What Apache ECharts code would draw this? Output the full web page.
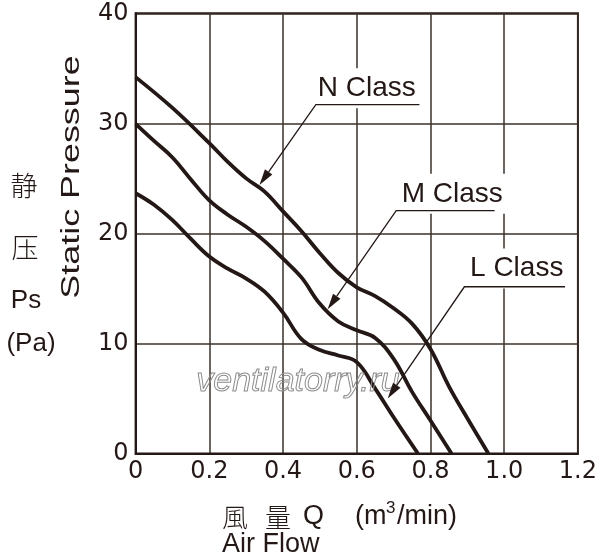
<!DOCTYPE html>
<html>
<head>
<meta charset="utf-8">
<script src="https://cdn.jsdelivr.net/npm/echarts@6/dist/echarts.min.js"></script>
<style>
html, body { margin: 0; padding: 0; background: #fff; }
#main { width: 600px; height: 558px; }
</style>
</head>
<body>
<div id="main"></div>
<script>
// 曲線データ (風量 m3/min, 静圧 Pa)
var nFlow = [0, 0.1, 0.2, 0.25, 0.3, 0.35, 0.4, 0.45, 0.5, 0.55, 0.6, 0.65, 0.7, 0.75, 0.8, 0.85, 0.9, 0.957];
var nPres = [34.2, 31.4, 28.2, 26.5, 25.0, 23.8, 22.0, 20.2, 18.2, 16.4, 15.1, 14.3, 13.2, 11.8, 9.5, 6.1, 3.2, 0];

var mFlow = [0, 0.05, 0.1, 0.15, 0.2, 0.25, 0.3, 0.35, 0.4, 0.45, 0.5, 0.55, 0.6, 0.65, 0.7, 0.75, 0.8, 0.857];
var mPres = [29.95, 28.4, 26.9, 24.9, 23.0, 21.7, 20.6, 19.3, 17.7, 16.0, 13.6, 12.0, 11.2, 10.5, 8.6, 5.6, 3.0, 0];

var lFlow = [0, 0.05, 0.1, 0.15, 0.2, 0.25, 0.3, 0.35, 0.4, 0.45, 0.5, 0.55, 0.6, 0.65, 0.7, 0.766];
var lPres = [23.65, 22.6, 21.2, 19.5, 17.9, 16.8, 15.9, 14.7, 12.8, 10.4, 9.4, 8.9, 8.3, 5.9, 3.3, 0];

var xTicks = [0, 0.2, 0.4, 0.6, 0.8, 1.0, 1.2];
var yTicks = [0, 10, 20, 30, 40];

// 注記: 名前, 文字中心, 下線 [x1, x2, y], 矢印先
var noteNames = ['N Class', 'M Class', 'L Class'];
var noteText = [[0.627, 33.2], [0.859, 23.6], [1.034, 16.8]];
var noteLine = [[0.489, 0.770, 31.7], [0.707, 0.974, 22.07], [0.892, 1.165, 15.15]];
var noteTip = [[0.336, 24.4], [0.521, 13.1], [0.684, 5.0]];

var ink = '#231815';

function pairs(xs, ys) {
	var out = [];
	for (var i = 0; i < xs.length; i++) {
		out.push([xs[i], ys[i]]);
	}
	return out;
}

var dom = document.getElementById('main');
var myChart = echarts.init(dom, null, { renderer: 'canvas' });

let curveStyle = {
	color: ink,
	width: 3.8
};

let option = {
	animation: false,
	backgroundColor: '#fff',
	grid: {
		left: 135.6,
		right: 22,
		top: 13.3,
		bottom: 104.5,
		show: true,
		borderColor: ink,
		borderWidth: 2
	},
	xAxis: {
		type: 'value',
		min: xTicks[0],
		max: xTicks[xTicks.length - 1],
		interval: 0.2,
		axisLine: { show: true, lineStyle: { color: ink, width: 2 } },
		axisTick: { show: false },
		splitLine: { show: true, lineStyle: { color: '#3b3029', width: 1.5 } },
		axisLabel: {
			margin: 6,
			color: ink,
			fontSize: 24,
			fontFamily: 'DejaVu Sans',
			formatter: function(v) {
				return v === 0 ? '0' : v.toFixed(1);
			}
		}
	},
	yAxis: {
		type: 'value',
		min: yTicks[0],
		max: yTicks[yTicks.length - 1],
		interval: 10,
		axisLine: { show: true, lineStyle: { color: ink, width: 2 } },
		axisTick: { show: false },
		splitLine: { show: true, lineStyle: { color: '#3b3029', width: 1.5 } },
		axisLabel: {
			margin: 7,
			color: ink,
			fontSize: 24,
			fontFamily: 'DejaVu Sans'
		}
	},
	series: [{
			name: 'N Class',
			type: 'line',
			smooth: 0.4,
			symbol: 'none',
			lineStyle: curveStyle,
			data: pairs(nFlow, nPres)
		},
		{
			name: 'M Class',
			type: 'line',
			smooth: 0.4,
			symbol: 'none',
			lineStyle: curveStyle,
			data: pairs(mFlow, mPres)
		},
		{
			name: 'L Class',
			type: 'line',
			smooth: 0.4,
			symbol: 'none',
			lineStyle: curveStyle,
			data: pairs(lFlow, lPres)
		}
	]
};
myChart.setOption(option);

function txt(s, x, y, size, extra) {
	let style = {
		text: s,
		x: x,
		y: y,
		fill: ink,
		font: size + 'px "Liberation Sans", "Noto Sans CJK JP", sans-serif',
		textAlign: 'center',
		textVerticalAlign: 'middle'
	};
	for (var k in extra) {
		style[k] = extra[k];
	}
	return { type: 'text', z: 50, style: style };
}

let g = [];
// 縦軸の見出し
g.push(txt('静', 24, 186, 27, { font: '300 27px "Noto Sans CJK JP"' }));
g.push(txt('压', 25, 248, 27, { font: '300 27px "Noto Sans CJK JP"' }));
g.push(txt('Ps', 26, 301, 26));
g.push(txt('(Pa)', 31, 344, 26));
g.push({
	type: 'text',
	z: 50,
	x: 72,
	y: 177,
	rotation: Math.PI / 2,
	scaleX: 1.38,
	style: {
		text: 'Static Pressure',
		fill: ink,
		font: '26px "Liberation Sans", sans-serif',
		textAlign: 'center',
		textVerticalAlign: 'middle'
	}
});
// 横軸の見出し
g.push(txt('風', 222, 517, 26, { textAlign: 'left', font: '300 26px "Noto Sans CJK JP"' }));
g.push(txt('量', 265, 517, 26, { textAlign: 'left', font: '300 26px "Noto Sans CJK JP"' }));
g.push(txt('Q', 303, 517, 27, { textAlign: 'left' }));
g.push(txt('(m', 355, 517, 27, { textAlign: 'left' }));
g.push(txt('3', 386, 508, 17, { textAlign: 'left' }));
g.push(txt('/min)', 397, 517, 27, { textAlign: 'left' }));
g.push(txt('Air Flow', 222, 545, 27, { textAlign: 'left' }));

// 透かし
g.push({
	type: 'text',
	z: 5,
	style: {
		text: 'ventilatorry.ru',
		x: 298,
		y: 382,
		fill: 'rgba(255,255,255,0)',
		stroke: '#8c8c8c',
		lineWidth: 1,
		font: 'italic 34px "Liberation Sans", sans-serif',
		textAlign: 'center',
		textVerticalAlign: 'middle'
	}
});

// 注記 (引出線と矢印)
for (var i = 0; i < noteNames.length; i++) {
	let a = myChart.convertToPixel({ gridIndex: 0 }, [noteLine[i][0], noteLine[i][2]]);
	let b = myChart.convertToPixel({ gridIndex: 0 }, [noteLine[i][1], noteLine[i][2]]);
	let tip = myChart.convertToPixel({ gridIndex: 0 }, noteTip[i]);
	let c = myChart.convertToPixel({ gridIndex: 0 }, noteText[i]);

	g.push(txt(noteNames[i], c[0], c[1], 28, {
		backgroundColor: '#fff',
		padding: [5, 4, 7, 4]
	}));

	let dx = tip[0] - a[0];
	let dy = tip[1] - a[1];
	let len = Math.sqrt(dx * dx + dy * dy);
	let ux = dx / len, uy = dy / len;
	let head = 16, wing = 4.5;
	let bx = tip[0] - ux * head, by = tip[1] - uy * head;

	g.push({
		type: 'polyline',
		z: 60,
		shape: { points: [b, a, [bx, by]] },
		style: { stroke: ink, lineWidth: 1.3, fill: null }
	});
	g.push({
		type: 'polygon',
		z: 60,
		shape: {
			points: [tip, [bx - uy * wing, by + ux * wing], [bx + uy * wing, by - ux * wing]]
		},
		style: { fill: ink }
	});
}

myChart.setOption({ graphic: g });
</script>
</body>
</html>
